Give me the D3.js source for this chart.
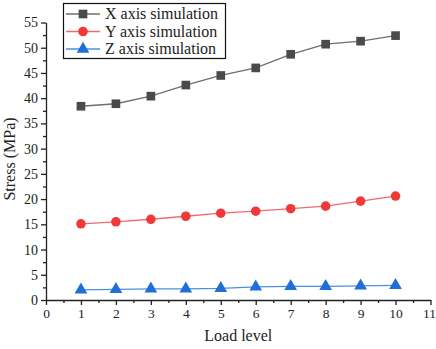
<!DOCTYPE html>
<html>
<head>
<meta charset="utf-8">
<script src="https://cdn.jsdelivr.net/npm/d3@7"></script>
<style>
  body { margin: 0; background: #fff; }
</style>
</head>
<body>
<svg id="chart" width="436" height="349"></svg>
<script>
// load levels and simulated stresses (MPa)
const loadLevels = [1, 2, 3, 4, 5, 6, 7, 8, 9, 10];
const xAxisSim = [38.4, 38.9, 40.4, 42.6, 44.5, 46.0, 48.7, 50.7, 51.3, 52.4];
const yAxisSim = [15.1, 15.5, 16.0, 16.6, 17.2, 17.6, 18.1, 18.6, 19.6, 20.6];
const zAxisSim = [2.0, 2.1, 2.2, 2.2, 2.3, 2.6, 2.7, 2.7, 2.8, 2.9];
const seriesNames = ["X axis simulation", "Y axis simulation", "Z axis simulation"];
const xTicks = d3.range(0, 12, 1);
const yTicks = d3.range(0, 60, 5);

const serif = "'Liberation Serif', 'Times New Roman', Times, serif";
const svg = d3.select("#chart");
const plotLeft = 46, plotRight = 430.5, plotTop = 22.5, plotBottom = 300;

const x = d3.scaleLinear().domain([0, 11]).range([plotLeft, plotRight]);
const y = d3.scaleLinear().domain([0, 55]).range([plotBottom, plotTop]);

// minor ticks first
svg.append("g")
  .attr("transform", "translate(0," + plotBottom + ")")
  .call(d3.axisBottom(x).tickValues(d3.range(0.5, 11, 1)).tickSize(3).tickFormat(""))
  .call(g => g.select(".domain").remove());
svg.append("g")
  .attr("transform", "translate(" + plotLeft + ",0)")
  .call(d3.axisLeft(y).tickValues(d3.range(2.5, 55, 5)).tickSize(3).tickFormat(""))
  .call(g => g.select(".domain").remove());

// main axes
const gx = svg.append("g")
  .attr("transform", "translate(0," + plotBottom + ")")
  .call(d3.axisBottom(x).tickValues(xTicks).tickSize(5).tickSizeOuter(0).tickPadding(3));
const gy = svg.append("g")
  .attr("transform", "translate(" + plotLeft + ",0)")
  .call(d3.axisLeft(y).tickValues(yTicks).tickSize(5).tickSizeOuter(0).tickPadding(3));

svg.selectAll(".tick line, .domain").attr("stroke", "#222").attr("stroke-width", 1.3);
svg.selectAll("g").attr("font-family", serif);
gx.selectAll("text").style("font-size", "13.5px").attr("fill", "#222");
gx.selectAll("text").filter(d => d === 11).attr("dx", "-1.5");
gy.selectAll("text").style("font-size", "14px").attr("fill", "#222");

svg.append("text")
  .attr("x", (plotLeft + plotRight) / 2).attr("y", 341)
  .attr("text-anchor", "middle")
  .style("font-family", serif).style("font-size", "16px").attr("fill", "#222")
  .text("Load level");
svg.append("text")
  .attr("transform", "translate(15," + 159 + ") rotate(-90)")
  .attr("text-anchor", "middle")
  .style("font-family", serif).style("font-size", "16px").attr("fill", "#222")
  .text("Stress (MPa)");

const series = [
  { name: seriesNames[0], values: xAxisSim, color: "#4a4a4a", line: "#6e6e6e", shape: d3.symbolSquare, size: 75 },
  { name: seriesNames[1], values: yAxisSim, color: "#f03a3a", line: "#f26a6a", shape: d3.symbolCircle, size: 72 },
  { name: seriesNames[2], values: zAxisSim, color: "#1f6fd6", line: "#4a90e2", shape: d3.symbolTriangle, size: 70 }
];

const line = d3.line().x((d, i) => x(loadLevels[i])).y(d => y(d));

series.forEach(s => {
  svg.append("path")
    .datum(s.values)
    .attr("fill", "none")
    .attr("stroke", s.line)
    .attr("stroke-width", 1.3)
    .attr("d", line);
  svg.selectAll(null)
    .data(s.values)
    .enter()
    .append("path")
    .attr("transform", (d, i) => "translate(" + x(loadLevels[i]) + "," + y(d) + ")")
    .attr("d", d3.symbol().type(s.shape).size(s.size))
    .attr("fill", s.color);
});

// legend
const legend = svg.append("g");
legend.append("rect")
  .attr("x", 63.5).attr("y", 3.5).attr("width", 162).attr("height", 55)
  .attr("fill", "#fff").attr("stroke", "#111").attr("stroke-width", 1.2);
series.forEach((s, i) => {
  const ly = 14 + i * 17.5;
  legend.append("line")
    .attr("x1", 66).attr("x2", 100).attr("y1", ly).attr("y2", ly)
    .attr("stroke", s.line).attr("stroke-width", 1.3);
  legend.append("path")
    .attr("transform", "translate(83," + ly + ")")
    .attr("d", d3.symbol().type(s.shape).size(s.size))
    .attr("fill", s.color);
  legend.append("text")
    .attr("x", 105).attr("y", ly + 5)
    .style("font-family", serif).style("font-size", "16px").attr("fill", "#222")
    .text(s.name);
});
</script>
</body>
</html>
